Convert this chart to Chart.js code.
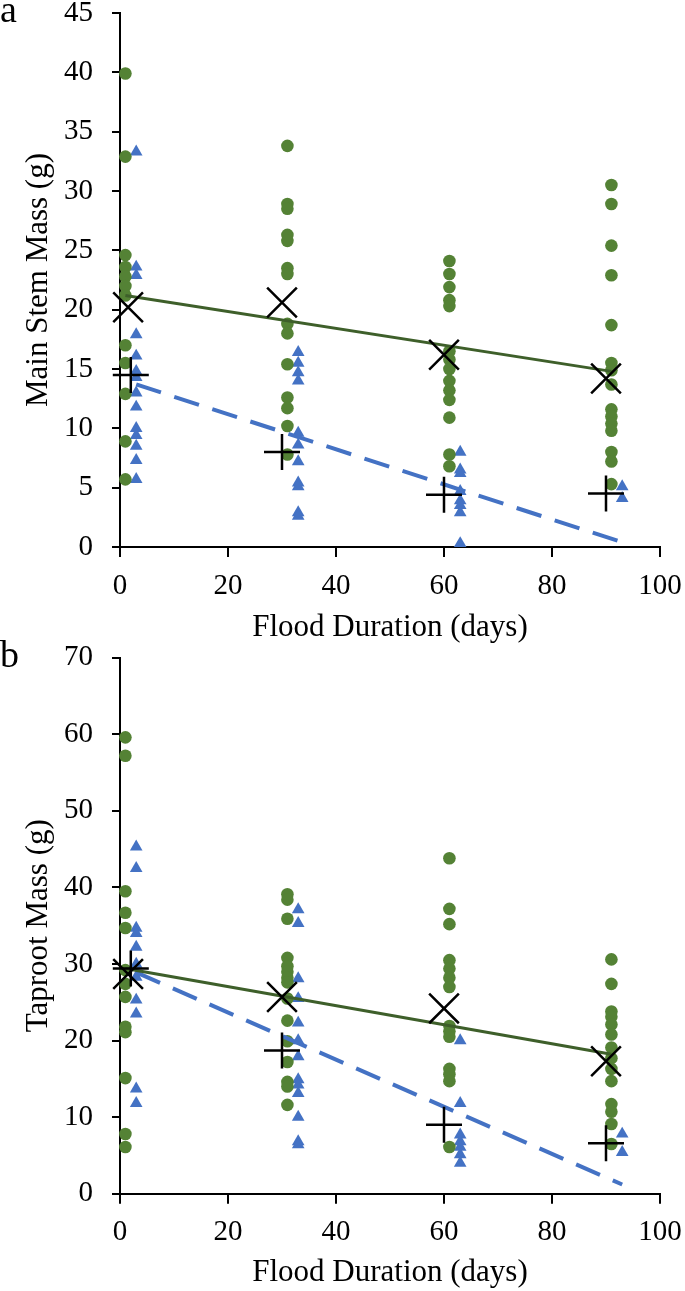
<!DOCTYPE html>
<html>
<head>
<meta charset="utf-8">
<script src="https://cdn.jsdelivr.net/npm/chart.js@4.4.1/dist/chart.umd.min.js"></script>
<style>
  body { margin: 0; background: #fff; }
  #wrap { position: relative; width: 685px; height: 1291px; overflow: hidden; }
  canvas { position: absolute; left: 0; }
</style>
</head>
<body>
<div id="wrap">
  <canvas id="stemChart" width="685" height="665" style="top:-15px"></canvas>
  <canvas id="taprootChart" width="685" height="661" style="top:630px"></canvas>
</div>
<script>
// Flood duration (x) for each group of points
const greenDays = [1, 31, 61, 91];
const blueDays = [3, 33, 63, 93];
const greenMeanDays = [1.5, 30, 60, 90];
const blueMeanDays = [2, 30, 60, 90];
const greenTrendDays = [1, 91];
const blueTrendDays = [3, 93];

// Panel a - main stem mass (g)
const stemGreen = [
    [39.9, 32.9, 24.6, 23.6, 22.8, 22.0, 21.2, 17.0, 15.5, 12.9, 8.9, 5.7],
    [33.8, 28.9, 28.5, 26.3, 25.8, 23.5, 23.0, 18.8, 18.0, 15.4, 12.6, 11.7, 10.2, 7.8],
    [24.1, 23.0, 21.9, 20.8, 20.3, 16.5, 15.8, 15.0, 14.0, 13.2, 12.4, 10.9, 7.8, 6.8],
    [30.5, 28.9, 25.4, 22.9, 18.7, 15.5, 14.9, 13.7, 11.6, 11.0, 10.4, 9.8, 8.0, 7.2, 5.3]
];
const stemBlue = [
    [33.3, 23.6, 22.9, 17.9, 16.1, 14.8, 14.3, 13.0, 11.8, 10.0, 9.4, 8.5, 7.3, 5.7],
    [16.4, 15.5, 14.7, 14.0, 9.6, 8.6, 7.2, 5.4, 5.1, 2.9, 2.6],
    [8.0, 6.5, 6.2, 4.7, 3.9, 3.5, 2.9, 0.3],
    [5.1, 4.1]
];
const stemGreenMean = [20.2, 20.6, 16.2, 14.2];
const stemBlueMean = [14.5, 8.0, 4.4, 4.5];
const stemGreenTrend = [21.2, 14.8];
const stemBlueTrend = [13.7, 0.4];

// Panel b - taproot mass (g)
const taprootGreen = [
    [59.6, 57.2, 39.5, 36.7, 34.7, 29.2, 27.4, 25.7, 21.8, 21.1, 15.1, 7.8, 6.1],
    [39.1, 38.4, 35.9, 30.8, 29.7, 29.0, 28.2, 27.6, 25.5, 22.6, 19.9, 17.2, 14.6, 14.0, 11.6],
    [43.8, 37.2, 35.2, 30.5, 29.4, 28.2, 27.0, 21.9, 21.2, 20.5, 16.3, 15.6, 14.7, 6.1],
    [30.6, 27.4, 23.8, 23.1, 22.1, 20.8, 19.1, 17.7, 16.3, 14.7, 11.7, 10.7, 9.1, 6.5]
];
const taprootBlue = [
    [45.3, 42.5, 34.7, 34.0, 32.2, 30.0, 28.3, 25.3, 23.5, 13.7, 11.8],
    [37.1, 35.3, 28.1, 25.5, 22.3, 20.0, 17.9, 14.9, 14.2, 13.1, 10.0, 6.8, 6.4],
    [20.0, 11.8, 7.7, 6.8, 6.1, 5.1, 4.0],
    [7.8, 5.4]
];
const taprootGreenMean = [28.7, 25.7, 24.2, 17.3];
const taprootBlueMean = [29.4, 18.7, 9.0, 6.6];
const taprootGreenTrend = [29.4, 18.2];
const taprootBlueTrend = [28.9, 1.2];

const GREEN = '#548235';
const GREEN_LINE = '#3E5F2A';
const BLUE = '#4472C4';

Chart.defaults.font.family = '"Liberation Serif", "Times New Roman", serif';
Chart.defaults.color = '#000';

function toPoints(days, groups) {
    return groups.flatMap((vals, i) => vals.map(v => ({ x: days[i], y: v })));
}

function pairPoints(days, vals) {
    return vals.map((v, i) => ({ x: days[i], y: v }));
}

// draws the panel letter (a / b)
const panelLabel = {
    id: 'panelLabel',
    afterDraw(chart, args, opts) {
        const ctx = chart.ctx;
        ctx.save();
        ctx.font = '38px "Liberation Serif", serif';
        ctx.fillStyle = '#000';
        ctx.textBaseline = 'alphabetic';
        ctx.fillText(opts.text, opts.x, opts.y);
        ctx.restore();
    }
};

function buildChart(id, o) {
    const ctx = document.getElementById(id);
    return new Chart(ctx, {
        type: 'scatter',
        data: {
            datasets: [
                {
                    data: toPoints(greenDays, o.green),
                    pointStyle: 'circle', pointRadius: 6.3,
                    pointBackgroundColor: GREEN, pointBorderWidth: 0,
                    clip: false, order: 3
                },
                {
                    data: toPoints(blueDays, o.blue),
                    pointStyle: 'triangle', pointRadius: 7.3,
                    pointBackgroundColor: BLUE, pointBorderWidth: 0,
                    clip: false, order: 3
                },
                {
                    data: pairPoints(greenTrendDays, o.greenTrend),
                    showLine: true, pointRadius: 0,
                    borderColor: GREEN_LINE, borderWidth: 3,
                    clip: false, order: 2
                },
                {
                    data: pairPoints(blueTrendDays, o.blueTrend),
                    showLine: true, pointRadius: 0,
                    borderColor: BLUE, borderWidth: 4, borderDash: [26, 14],
                    clip: false, order: 2
                },
                {
                    data: pairPoints(greenMeanDays, o.greenMean),
                    pointStyle: 'crossRot', pointRadius: 21,
                    pointBorderColor: '#000', pointBorderWidth: 2.5,
                    clip: false, order: 1
                },
                {
                    data: pairPoints(blueMeanDays, o.blueMean),
                    pointStyle: 'cross', pointRadius: 18,
                    pointBorderColor: '#000', pointBorderWidth: 2.5,
                    clip: false, order: 1
                }
            ]
        },
        options: {
            responsive: false,
            animation: false,
            devicePixelRatio: 1,
            layout: { padding: { top: o.padTop, right: 25, bottom: 0, left: 0 } },
            plugins: {
                legend: { display: false },
                tooltip: { enabled: false },
                panelLabel: { text: o.letter, x: 0, y: o.letterY }
            },
            scales: {
                x: {
                    type: 'linear', min: 0, max: 100,
                    ticks: { stepSize: 20, maxRotation: 0, padding: 11.6, font: { size: 29 }, color: '#000' },
                    grid: { drawOnChartArea: false, tickLength: 10, lineWidth: 2, color: '#000' },
                    border: { display: true, color: '#000', width: 2 },
                    title: {
                        display: true, text: 'Flood Duration (days)', color: '#000',
                        font: { size: 31 }, padding: { top: 0, bottom: o.xTitlePad }
                    },
                    afterFit(s) { s.height = o.xHeight; s.paddingLeft = 0; s.paddingRight = 0; }
                },
                y: {
                    type: 'linear', min: 0, max: o.yMax,
                    ticks: { stepSize: o.yStep, padding: 19, font: { size: 29 }, color: '#000' },
                    grid: { drawOnChartArea: false, tickLength: 8, lineWidth: 2, color: '#000' },
                    border: { display: true, color: '#000', width: 2 },
                    title: {
                        display: true, text: o.yTitle, color: '#000',
                        font: { size: 31 }, padding: { top: 20, bottom: 0 }
                    },
                    afterFit(s) { s.width = 120; s.paddingTop = 0; s.paddingBottom = 0; }
                }
            }
        },
        plugins: [panelLabel]
    });
}

buildChart('stemChart', {
    green: stemGreen, blue: stemBlue,
    greenMean: stemGreenMean, blueMean: stemBlueMean,
    greenTrend: stemGreenTrend, blueTrend: stemBlueTrend,
    yMax: 45, yStep: 5, yTitle: 'Main Stem Mass (g)',
    padTop: 28, xHeight: 103, xTitlePad: 3.4,
    letter: 'a', letterY: 37
});

buildChart('taprootChart', {
    green: taprootGreen, blue: taprootBlue,
    greenMean: taprootGreenMean, blueMean: taprootBlueMean,
    greenTrend: taprootGreenTrend, blueTrend: taprootBlueTrend,
    yMax: 70, yStep: 10, yTitle: 'Taproot Mass (g)',
    padTop: 27.7, xHeight: 97.3, xTitlePad: 0,
    letter: 'b', letterY: 37
});
</script>
</body>
</html>
